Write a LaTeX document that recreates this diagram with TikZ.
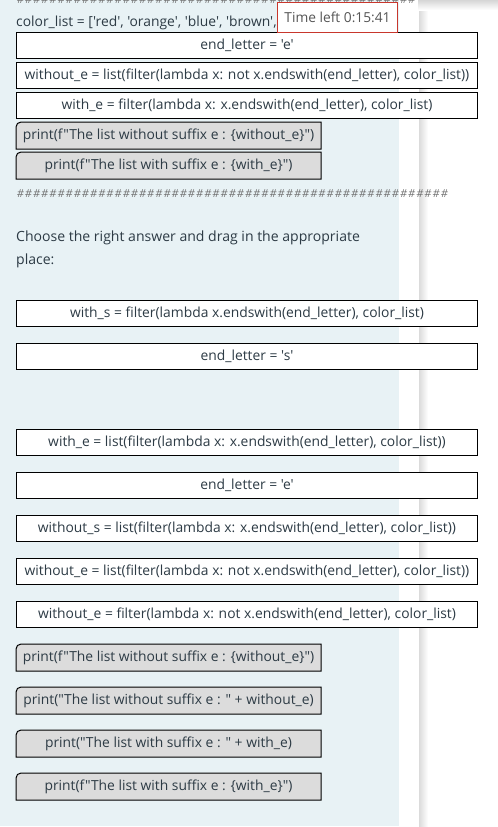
\documentclass[tikz,border=0pt]{standalone}
\usepackage{fontspec}
\setmainfont{Open Sans}[Ligatures=TeXOff]
\usepackage{tikz}
\usetikzlibrary{positioning,backgrounds}

\definecolor{panelblue}{HTML}{E8F2F5}
\definecolor{inkgray}{HTML}{2D3B45}
\definecolor{tilegray}{HTML}{DCDCDC}
\definecolor{hashgray}{HTML}{6E6E6E}
\definecolor{timerred}{HTML}{C8372D}
\definecolor{timertext}{HTML}{555555}

\newcommand\hashrow[1]{\foreach \i in {1,...,#1}{\makebox[8.15bp]{\#}}}

\begin{document}
\begin{tikzpicture}[x=1bp, y=1bp, node distance=16bp,
                    every node/.style={font=\fontsize{13.9}{15}\selectfont, text=inkgray},
                    code box/.style={draw=black, line width=1bp, fill=white, minimum width=461bp,
                                     minimum height=26bp, inner sep=0pt},
                    print box/.style={minimum width=304bp, minimum height=26bp, inner sep=0pt, outer sep=0.5bp},
                    tile/.style={draw=black, line width=1bp, fill=tilegray},
                    hashes/.style={font=\fontsize{11}{13}\selectfont\itshape, text=hashgray, inner sep=0pt, anchor=base west}]
  \useasboundingbox (0,0) rectangle (498,-827);

  % code already in place
  \node[hashes] (topHash) at (16,-3) {\hashrow{49}};
  \node[inner sep=0pt, anchor=base west] (colorList) at (16,-26) {color\_list = ['red', 'orange', 'blue', 'brown',};
  \node[code box, anchor=north west] (endE) at (16,-32) {end\_letter = 'e'};
  \node[code box, below=3bp of endE] (withoutE) {without\_e = list(filter(lambda x: not x.endswith(end\_letter), color\_list))};
  \node[code box, below=3bp of withoutE] (withE) {with\_e = filter(lambda x: x.endswith(end\_letter), color\_list)};
  \node[print box, below=3bp of withE.south west, anchor=north west] (printWithout) {print(f"The list without suffix e : \{without\_e\}")};
  \node[print box, below=3bp of printWithout] (printWith) {print(f"The list with suffix e : \{with\_e\}")};
  \node[hashes] (midHash) at (16,-197) {\hashrow{53}};

  % question
  \node[inner sep=0pt, anchor=north west, align=left, font=\fontsize{14.1}{22.5}\selectfont] (question) at (16,-231)
    {Choose the right answer and drag in the appropriate\\place:};

  % choices
  \node[code box, anchor=north west] (optWithS) at (16,-300) {with\_s = filter(lambda x.endswith(end\_letter), color\_list)};
  \node[code box, below=of optWithS] (optEndS) {end\_letter = 's'};
  \node[code box, below=59bp of optEndS] (optWithE) {with\_e = list(filter(lambda x: x.endswith(end\_letter), color\_list))};
  \node[code box, below=of optWithE] (optEndE) {end\_letter = 'e'};
  \node[code box, below=of optEndE] (optWithoutS) {without\_s = list(filter(lambda x: x.endswith(end\_letter), color\_list))};
  \node[code box, below=of optWithoutS] (optWithoutE) {without\_e = list(filter(lambda x: not x.endswith(end\_letter), color\_list))};
  \node[code box, below=of optWithoutE] (optWithoutEf) {without\_e = filter(lambda x: not x.endswith(end\_letter), color\_list)};
  \node[print box, below=of optWithoutEf.south west, anchor=north west] (optPrintFWithout) {print(f"The list without suffix e : \{without\_e\}")};
  \node[print box, below=of optPrintFWithout] (optPrintWithout) {print("The list without suffix e : " + without\_e)};
  \node[print box, below=of optPrintWithout] (optPrintWith) {print("The list with suffix e : " + with\_e)};
  \node[print box, below=of optPrintWith] (optPrintFWith) {print(f"The list with suffix e : \{with\_e\}")};

  % timer
  \node[draw=timerred, line width=1bp, fill=white, text=timertext, minimum width=120bp, minimum height=30bp,
        inner sep=0pt, font=\fontsize{13.8}{15}\selectfont] (timer) at (337.5,-17.5) {Time left 0:15:41};

  \begin{scope}[on background layer]
    \fill[panelblue] (0,0) rectangle (399,-826);
    \shade[left color=black!14, right color=white] (419,-8) rectangle (428,-827);
    \shade[top color=black!16, bottom color=white] (418,0) rectangle (498,-10);
    \foreach \n in {printWithout,printWith,optPrintFWithout,optPrintWithout,optPrintWith,optPrintFWith}
      \draw[tile] (\n.south west) -- ([yshift=-5bp]\n.north west) arc[start angle=180, end angle=90, radius=5bp]
        -- (\n.north east) -- (\n.south east) -- cycle;
  \end{scope}
\end{tikzpicture}
\end{document}
